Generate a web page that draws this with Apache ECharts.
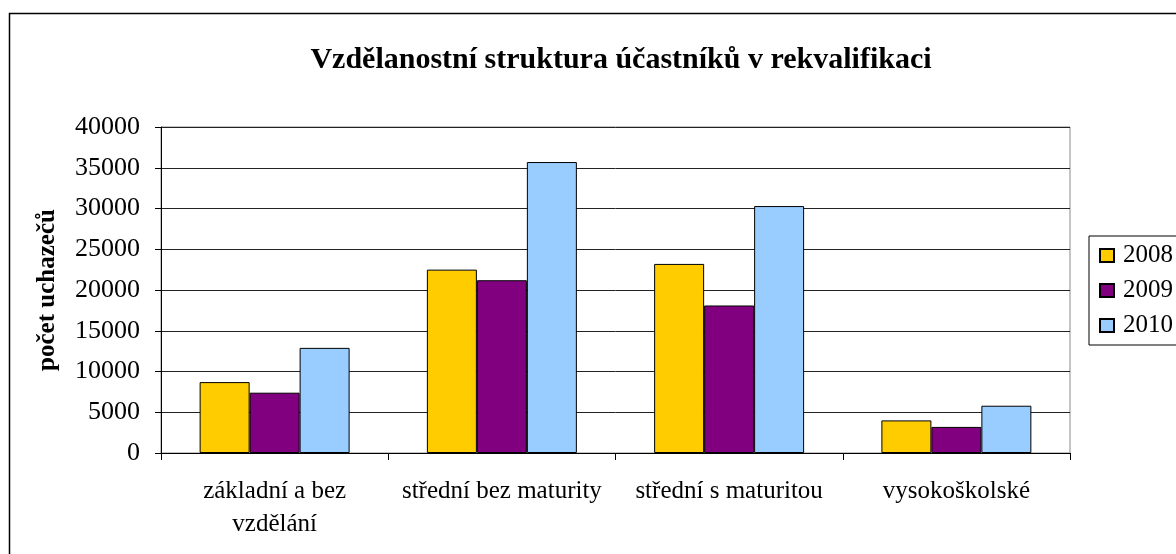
<!DOCTYPE html>
<html lang="cs">
<head>
    <meta charset="UTF-8">
    <title>Vzdělanostní struktura</title>
    <script src="https://cdn.jsdelivr.net/npm/echarts@6/dist/echarts.min.js"></script>
    <style>
        html, body { margin: 0; padding: 0; background: #fff; }
        #main { width: 1176px; height: 554px; }
    </style>
</head>
<body>
<div id="main"></div>
<script type="text/javascript">
    var categories = ['základní a bez\nvzdělání', 'střední bez maturity', 'střední s maturitou', 'vysokoškolské'];
    var years = ['2008', '2009', '2010'];
    var data2008 = [8700, 22500, 23200, 4000];
    var data2009 = [7400, 21200, 18100, 3200];
    var data2010 = [12900, 35700, 30300, 5800];
    var colors = ['#ffcc00', '#800080', '#99ccff'];

    var font = '"Liberation Serif", "Times New Roman", serif';
    var chart = echarts.init(document.getElementById('main'));

    function bar(name, values, color) {
        return {
            name: name,
            type: 'bar',
            data: values,
            barGap: '0%',
            barCategoryGap: '34%',
            itemStyle: { color: color, borderColor: '#000', borderWidth: 1 }
        };
    }

    var option = {
        animation: false,
        textStyle: { fontFamily: font },
        title: {
            text: 'Vzdělanostní struktura účastníků v rekvalifikaci',
            left: 616,
            textAlign: 'center',
            top: 40,
            textStyle: { fontFamily: font, fontSize: 30, fontWeight: 'bold', color: '#000' }
        },
        graphic: [{
            type: 'rect',
            shape: { x: 9.5, y: 13.5, width: 1300, height: 700 },
            style: { fill: 'none', stroke: '#000', lineWidth: 1.5 },
            z: -1
        }],
        legend: {
            orient: 'vertical',
            left: 1089,
            top: 236,
            padding: [7, 10, 7, 10],
            itemGap: 10,
            itemWidth: 14,
            itemHeight: 13,
            borderColor: '#000',
            borderWidth: 1,
            icon: 'rect',
            data: years,
            textStyle: { fontFamily: font, fontSize: 25, color: '#000', padding: [0, 0, 0, 4] }
        },
        grid: {
            left: 161,
            right: 106,
            top: 127,
            bottom: 101,
            show: true,
            borderColor: '#888',
            borderWidth: 1
        },
        xAxis: {
            type: 'category',
            data: categories,
            axisLine: { lineStyle: { color: '#000' } },
            axisTick: { show: true, length: 7, lineStyle: { color: '#000' } },
            axisLabel: { interval: 0, fontFamily: font, fontSize: 25, color: '#000', margin: 22, lineHeight: 33 }
        },
        yAxis: {
            type: 'value',
            min: 0,
            max: 40000,
            interval: 5000,
            name: 'počet uchazečů',
            nameLocation: 'middle',
            nameGap: 101,
            nameTextStyle: { fontFamily: font, fontSize: 25, fontWeight: 'bold', color: '#000' },
            axisLine: { show: true, lineStyle: { color: '#000' } },
            axisTick: { show: true, length: 6, lineStyle: { color: '#000' } },
            axisLabel: { fontFamily: font, fontSize: 26, color: '#000', margin: 21, formatter: function (v) { return String(v); } },
            splitLine: { lineStyle: { color: '#222', width: 1 } }
        },
        series: [
            bar(years[0], data2008, colors[0]),
            bar(years[1], data2009, colors[1]),
            bar(years[2], data2010, colors[2])
        ]
    };
    chart.setOption(option);
</script>
</body>
</html>
